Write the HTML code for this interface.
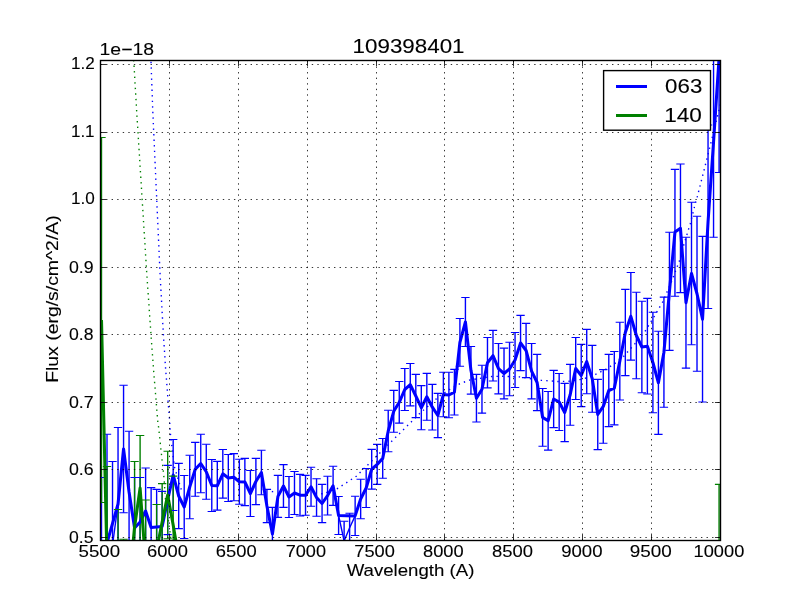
<!DOCTYPE html>
<html lang="en">
<head>
<meta charset="utf-8">
<title>109398401</title>
<style>
html,body{margin:0;padding:0;background:#fff;}
body{width:800px;height:600px;overflow:hidden;position:relative;font-family:"Liberation Sans",sans-serif;}
</style>
</head>
<body>
<svg width="800" height="600" viewBox="0 0 800 600" style="position:absolute;left:0;top:0;display:block;will-change:transform">
<rect x="0" y="0" width="800" height="600" fill="#ffffff"/>
<defs><clipPath id="ax"><rect x="100.5" y="60.5" width="620" height="480"/></clipPath></defs>
<g clip-path="url(#ax)">
<path d="M101.5 477.5V642.5M107.01 434.3V651.7M112.53 461.5V628.5M118.04 427.5V580.5M123.56 385.3V512.7M129.07 431.3V552.7M134.58 477.5V578.5M140.1 477.5V566.5M145.61 468V554M151.13 487.6V567.4M156.64 489.4V564.6M162.15 491.4V561.6M167.67 465.4V534.6M173.18 439.5V510.5M178.7 463.4V528.6M184.21 475.5V538.5M189.72 455.25V518.75M195.24 442.4V496.2M200.75 434.25V492.75M206.27 444.25V499.25M211.78 459.5V511.5M217.29 461.4V510.1M222.81 449.5V498.1M228.32 454.5V501.5M233.84 453.6V500.8M239.35 459.25V504.25M244.86 458.4V505.6M250.38 470.5V516.5M255.89 458.4V504.6M261.41 450.25V494.75M266.92 489.4V522.6M272.43 507.4V560.6M277.95 475.4V517.4M283.46 464.6V507.4M288.98 476.5V517.5M294.49 471.5V514.5M300.0 474.4V516.0M305.52 475.4V515.2M311.03 467.25V506.25M316.55 478.75V516.25M322.06 484.4V522.6M327.57 476.25V514.95M333.09 466.25V505.35M338.6 496.5V534.5M344.12 521.3V560.7M349.63 513.3V542.1M355.14 496.3V535.5M360.66 479.2V518.8M366.17 468.5V507.5M371.69 449.4V489.1M377.2 444.4V484.4M382.71 438.5V478.3M388.23 410.25V451.75M393.74 390.4V432.2M399.26 381.5V423.1M404.77 368.5V410.5M410.28 363.5V405.9M415.8 374.4V417.6M421.31 385.6V429.8M426.83 373.4V420.2M432.34 384.4V430.0M437.85 393.4V437.6M443.37 372.25V416.75M448.88 372.25V417.75M454.4 369.4V415.0M459.91 318.5V366.3M465.42 297.5V346.5M470.94 346.5V394.1M476.45 374.4V422.0M481.97 365.25V413.15M487.48 337.5V387.9M492.99 330.4V381.0M498.51 343.5V393.9M504.02 348.1V398.9M509.54 342.25V395.75M515.05 332.5V387.5M520.56 315.4V370.6M526.08 323.4V377.6M531.59 343.5V398.9M537.11 354.4V410.6M542.62 388.5V446.3M548.13 391.5V450.1M553.65 370.4V427.6M559.16 373.5V430.5M564.68 383.4V441.6M570.19 364.4V425.2M575.7 337.5V399.5M581.22 344.4V406.6M586.73 329.4V393.8M592.25 345.4V412.2M597.76 379.4V449.6M603.27 369.6V443.2M608.79 354.4V426.6M614.3 351.5V424.9M619.82 322.25V399.95M625.33 289.4V375.6M630.84 272.5V360.1M636.36 292.25V378.75M641.87 301.25V392.75M647.39 298.4V394.0M652.9 312.25V412.75M658.41 331.25V434.35M663.93 297.1V407.3M669.44 232.25V350.35M674.96 169.4V296.25M680.47 164V292.6M685.98 237.25V368.15M691.5 202.3V344.7M697.01 216.3V371.2M702.53 236.4V402.0M708.04 125V308.5M713.55 46.7V237.3M719.07 -56.5V172.5" stroke="#0000ff" stroke-width="1.39" fill="none"/>
<path d="M101.5 137.5V502.5M107.01 466.5V653.5M112.53 560V640M118.04 509.5V660.5M123.56 539.3V660.7M129.07 560V610M134.58 461.5V592.5M140.1 435.5V540.5M145.61 500V628M151.13 560V640M156.64 504.5V595.5M162.15 483.6V560.4M167.67 451.3V538.7M173.18 476.1V573.9M178.7 545V571M184.21 560V640M719.07 484.4V715.6" stroke="#008000" stroke-width="1.39" fill="none"/>
<path d="M101.5 560L107.01 543L112.53 545L118.04 504L123.56 449L129.07 492L134.58 528L140.1 522L145.61 511L151.13 527.5L156.64 527L162.15 526.5L167.67 500L173.18 475L178.7 496L184.21 507L189.72 487L195.24 469.3L200.75 463.5L206.27 471.75L211.78 485.5L217.29 485.75L222.81 473.8L228.32 478L233.84 477.2L239.35 481.75L244.86 482L250.38 493.5L255.89 481.5L261.41 472.5L266.92 506L272.43 534L277.95 496.4L283.46 486L288.98 497L294.49 493L300.0 495.2L305.52 495.3L311.03 486.75L316.55 497.5L322.06 503.5L327.57 495.6L333.09 485.8L338.6 515.5L344.12 541L349.63 527.7L355.14 515.9L360.66 499L366.17 488L371.69 469.25L377.2 464.4L382.71 458.4L388.23 431L393.74 411.3L399.26 402.3L404.77 389.5L410.28 384.7L415.8 396L421.31 407.7L426.83 396.8L432.34 407.2L437.85 415.5L443.37 394.5L448.88 395L454.4 392.2L459.91 342.4L465.42 322L470.94 370.3L476.45 398.2L481.97 389.2L487.48 362.7L492.99 355.7L498.51 368.7L504.02 373.5L509.54 369L515.05 360L520.56 343L526.08 350.5L531.59 371.2L537.11 382.5L542.62 417.4L548.13 420.8L553.65 399L559.16 402L564.68 412.5L570.19 394.8L575.7 368.5L581.22 375.5L586.73 361.6L592.25 378.8L597.76 414.5L603.27 406.4L608.79 390.5L614.3 388.2L619.82 361.1L625.33 332.5L630.84 316.3L636.36 335.5L641.87 347L647.39 346.2L652.9 362.5L658.41 382.8L663.93 352.2L669.44 291.3L674.96 232L680.47 228.3L685.98 302.7L691.5 273.5L697.01 293.75L702.53 319.2L708.04 222L713.55 142L719.07 58" stroke="#0000ff" stroke-width="1.39" fill="none" stroke-linejoin="round" />
<path d="M97.33 477.5H105.67M102.84 434.3H111.18M108.36 461.5H116.7M113.87 427.5H122.21M119.39 385.3H127.73M119.39 512.7H127.73M124.9 431.3H133.24M130.41 477.5H138.75M135.93 477.5H144.27M141.44 468H149.78M146.96 487.6H155.3M152.47 489.4H160.81M157.98 491.4H166.32M163.5 465.4H171.84M163.5 534.6H171.84M169.01 439.5H177.35M169.01 510.5H177.35M174.53 463.4H182.87M174.53 528.6H182.87M180.04 475.5H188.38M180.04 538.5H188.38M185.55 455.25H193.89M185.55 518.75H193.89M191.07 442.4H199.41M191.07 496.2H199.41M196.58 434.25H204.92M196.58 492.75H204.92M202.1 444.25H210.44M202.1 499.25H210.44M207.61 459.5H215.95M207.61 511.5H215.95M213.12 461.4H221.46M213.12 510.1H221.46M218.64 449.5H226.98M218.64 498.1H226.98M224.15 454.5H232.49M224.15 501.5H232.49M229.67 453.6H238.01M229.67 500.8H238.01M235.18 459.25H243.52M235.18 504.25H243.52M240.69 458.4H249.03M240.69 505.6H249.03M246.21 470.5H254.55M246.21 516.5H254.55M251.72 458.4H260.06M251.72 504.6H260.06M257.24 450.25H265.58M257.24 494.75H265.58M262.75 489.4H271.09M262.75 522.6H271.09M268.26 507.4H276.6M273.78 475.4H282.12M273.78 517.4H282.12M279.29 464.6H287.63M279.29 507.4H287.63M284.81 476.5H293.15M284.81 517.5H293.15M290.32 471.5H298.66M290.32 514.5H298.66M295.83 474.4H304.17M295.83 516.0H304.17M301.35 475.4H309.69M301.35 515.2H309.69M306.86 467.25H315.2M306.86 506.25H315.2M312.38 478.75H320.72M312.38 516.25H320.72M317.89 484.4H326.23M317.89 522.6H326.23M323.4 476.25H331.74M323.4 514.95H331.74M328.92 466.25H337.26M328.92 505.35H337.26M334.43 496.5H342.77M334.43 534.5H342.77M339.95 521.3H348.29M345.46 513.3H353.8M345.46 542.1H353.8M350.97 496.3H359.31M350.97 535.5H359.31M356.49 479.2H364.83M356.49 518.8H364.83M362.0 468.5H370.34M362.0 507.5H370.34M367.52 449.4H375.86M367.52 489.1H375.86M373.03 444.4H381.37M373.03 484.4H381.37M378.54 438.5H386.88M378.54 478.3H386.88M384.06 410.25H392.4M384.06 451.75H392.4M389.57 390.4H397.91M389.57 432.2H397.91M395.09 381.5H403.43M395.09 423.1H403.43M400.6 368.5H408.94M400.6 410.5H408.94M406.11 363.5H414.45M406.11 405.9H414.45M411.63 374.4H419.97M411.63 417.6H419.97M417.14 385.6H425.48M417.14 429.8H425.48M422.66 373.4H431.0M422.66 420.2H431.0M428.17 384.4H436.51M428.17 430.0H436.51M433.68 393.4H442.02M433.68 437.6H442.02M439.2 372.25H447.54M439.2 416.75H447.54M444.71 372.25H453.05M444.71 417.75H453.05M450.23 369.4H458.57M450.23 415.0H458.57M455.74 318.5H464.08M455.74 366.3H464.08M461.25 297.5H469.59M461.25 346.5H469.59M466.77 346.5H475.11M466.77 394.1H475.11M472.28 374.4H480.62M472.28 422.0H480.62M477.8 365.25H486.14M477.8 413.15H486.14M483.31 337.5H491.65M483.31 387.9H491.65M488.82 330.4H497.16M488.82 381.0H497.16M494.34 343.5H502.68M494.34 393.9H502.68M499.85 348.1H508.19M499.85 398.9H508.19M505.37 342.25H513.71M505.37 395.75H513.71M510.88 332.5H519.22M510.88 387.5H519.22M516.39 315.4H524.73M516.39 370.6H524.73M521.91 323.4H530.25M521.91 377.6H530.25M527.42 343.5H535.76M527.42 398.9H535.76M532.94 354.4H541.28M532.94 410.6H541.28M538.45 388.5H546.79M538.45 446.3H546.79M543.96 391.5H552.3M543.96 450.1H552.3M549.48 370.4H557.82M549.48 427.6H557.82M554.99 373.5H563.33M554.99 430.5H563.33M560.51 383.4H568.85M560.51 441.6H568.85M566.02 364.4H574.36M566.02 425.2H574.36M571.53 337.5H579.87M571.53 399.5H579.87M577.05 344.4H585.39M577.05 406.6H585.39M582.56 329.4H590.9M582.56 393.8H590.9M588.08 345.4H596.42M588.08 412.2H596.42M593.59 379.4H601.93M593.59 449.6H601.93M599.1 369.6H607.44M599.1 443.2H607.44M604.62 354.4H612.96M604.62 426.6H612.96M610.13 351.5H618.47M610.13 424.9H618.47M615.65 322.25H623.99M615.65 399.95H623.99M621.16 289.4H629.5M621.16 375.6H629.5M626.67 272.5H635.01M626.67 360.1H635.01M632.19 292.25H640.53M632.19 378.75H640.53M637.7 301.25H646.04M637.7 392.75H646.04M643.22 298.4H651.56M643.22 394.0H651.56M648.73 312.25H657.07M648.73 412.75H657.07M654.24 331.25H662.58M654.24 434.35H662.58M659.76 297.1H668.1M659.76 407.3H668.1M665.27 232.25H673.61M665.27 350.35H673.61M670.79 169.4H679.13M670.79 296.25H679.13M676.3 164H684.64M676.3 292.6H684.64M681.81 237.25H690.15M681.81 368.15H690.15M687.33 202.3H695.67M687.33 344.7H695.67M692.84 216.3H701.18M692.84 371.2H701.18M698.36 236.4H706.7M698.36 402.0H706.7M703.87 125H712.21M703.87 308.5H712.21M709.38 237.3H717.72M714.9 172.5H723.24" stroke="#0000ff" stroke-width="1.1" fill="none"/>
<path d="M101.5 560L107.01 543L118.04 504L123.56 449L129.07 492L134.58 528L140.1 522L145.61 511L151.13 527.5L156.64 527L162.15 526.5L167.67 500L173.18 475L178.7 496L184.21 507L189.72 487L195.24 469.3L200.75 463.5L206.27 471.75L211.78 485.5L217.29 485.75L222.81 473.8L228.32 478L233.84 477.2L239.35 481.75L244.86 482L250.38 493.5L255.89 481.5L261.41 472.5L266.92 506L272.43 534L277.95 496.4L283.46 486L288.98 497L294.49 493L300.0 495.2L305.52 495.3L311.03 486.75L316.55 497.5L322.06 503.5L327.57 495.6L333.09 485.8L338.6 515.5L355.14 515.9L360.66 499L366.17 488L371.69 469.25L377.2 464.4L382.71 458.4L388.23 431L393.74 411.3L399.26 402.3L404.77 389.5L410.28 384.7L415.8 396L421.31 407.7L426.83 396.8L432.34 407.2L437.85 415.5L443.37 394.5L448.88 395L454.4 392.2L459.91 342.4L465.42 322L470.94 370.3L476.45 398.2L481.97 389.2L487.48 362.7L492.99 355.7L498.51 368.7L504.02 373.5L509.54 369L515.05 360L520.56 343L526.08 350.5L531.59 371.2L537.11 382.5L542.62 417.4L548.13 420.8L553.65 399L559.16 402L564.68 412.5L570.19 394.8L575.7 368.5L581.22 375.5L586.73 361.6L592.25 378.8L597.76 414.5L603.27 406.4L608.79 390.5L614.3 388.2L619.82 361.1L625.33 332.5L630.84 316.3L636.36 335.5L641.87 347L647.39 346.2L652.9 362.5L658.41 382.8L663.93 352.2L669.44 291.3L674.96 232L680.47 228.3L685.98 302.7L691.5 273.5L697.01 293.75L702.53 319.2L708.04 222L713.55 142L719.07 58" stroke="#0000ff" stroke-width="3.05" fill="none" stroke-linejoin="round" />
<path d="M151 61.8L152.8 111.7L160 272.7L163 328L165.5 367L169.7 422L170.6 436L174.4 466.75L176 472L180.6 487.4L181.6 490.5" stroke="#0000ff" stroke-width="1.39" fill="none" stroke-linejoin="round" stroke-dasharray="1.39 4.17"/>
<path d="M271.8 491.6L273.2 491.6" stroke="#0000ff" stroke-width="1.39" fill="none" stroke-linejoin="round" stroke-dasharray="1.39 4.17"/>
<path d="M321.2 493.75L322.6 493.75" stroke="#0000ff" stroke-width="1.39" fill="none" stroke-linejoin="round" stroke-dasharray="1.39 4.17"/>
<path d="M326.2 492.5L327.6 492.5" stroke="#0000ff" stroke-width="1.39" fill="none" stroke-linejoin="round" stroke-dasharray="1.39 4.17"/>
<path d="M336.9 488.9L356.2 476.3L411.6 421.6L419.4 413.75L440 395.6L449.5 389.5L459.3 384L470 379.9L491.9 376.5L503 376.25L519.4 376.9L541 380.25L557.75 381.5L568.75 381.25L580 379.6L585 378.4L595.6 374.4L605.6 369.4L615 363.4L623.75 356.25L634.6 344.1L645.25 331L654 316.9L662.5 302.25L666.9 292.25L671.25 282.25L679.4 261.1L683.75 245L690.25 223.75L695.4 203.1L697.1 197.5L704.1 170L712.1 138.1L720.5 104" stroke="#0000ff" stroke-width="1.39" fill="none" stroke-linejoin="round" stroke-dasharray="1.39 4.17"/>
<path d="M97.33 137.5H105.67M97.33 502.5H105.67M102.84 466.5H111.18M113.87 509.5H122.21M119.39 539.3H127.73M130.41 461.5H138.75M135.93 435.5H144.27M135.93 540.5H144.27M141.44 500H149.78M152.47 504.5H160.81M157.98 483.6H166.32M163.5 451.3H171.84M163.5 538.7H171.84M169.01 476.1H177.35M714.9 484.4H723.24" stroke="#008000" stroke-width="1.1" fill="none"/>
<path d="M101.5 320L107.01 560L112.53 600L118.04 585L123.56 600L129.07 585L134.58 527L140.1 488L145.61 564L151.13 600L156.64 550L162.15 522L167.67 495L173.18 525L178.7 558L184.21 600" stroke="#008000" stroke-width="3.05" fill="none" stroke-linejoin="round" />
<path d="M133.7 60L136.7 111.7L146.7 272.5L150.5 327.8L153.3 366.5L157.8 422L158.6 427.4L161 450L164 478L165.5 499.5L170 532L171.5 545" stroke="#008000" stroke-width="1.39" fill="none" stroke-linejoin="round" stroke-dasharray="1.39 4.17"/>
</g>
<path d="M169.5 540.5V60.5M238.5 540.5V60.5M307.5 540.5V60.5M376.5 540.5V60.5M444.5 540.5V60.5M513.5 540.5V60.5M582.5 540.5V60.5M651.5 540.5V60.5M100.5 537.5H720.5M100.5 469.5H720.5M100.5 402.5H720.5M100.5 334.5H720.5M100.5 267.5H720.5M100.5 199.5H720.5M100.5 132.5H720.5M100.5 64.5H720.5" stroke="#000" stroke-width="0.8" stroke-dasharray="1.39 4.17" fill="none"/>
<path d="M100.5 540.5v-5.56M100.5 60.5v5.56M169.5 540.5v-5.56M169.5 60.5v5.56M238.5 540.5v-5.56M238.5 60.5v5.56M307.5 540.5v-5.56M307.5 60.5v5.56M376.5 540.5v-5.56M376.5 60.5v5.56M444.5 540.5v-5.56M444.5 60.5v5.56M513.5 540.5v-5.56M513.5 60.5v5.56M582.5 540.5v-5.56M582.5 60.5v5.56M651.5 540.5v-5.56M651.5 60.5v5.56M720.5 540.5v-5.56M720.5 60.5v5.56M100.5 537.5h5.56M720.5 537.5h-5.56M100.5 469.5h5.56M720.5 469.5h-5.56M100.5 402.5h5.56M720.5 402.5h-5.56M100.5 334.5h5.56M720.5 334.5h-5.56M100.5 267.5h5.56M720.5 267.5h-5.56M100.5 199.5h5.56M720.5 199.5h-5.56M100.5 132.5h5.56M720.5 132.5h-5.56M100.5 64.5h5.56M720.5 64.5h-5.56" stroke="#000" stroke-width="0.8" fill="none"/>
<rect x="100.5" y="60.5" width="620" height="480" fill="none" stroke="#000" stroke-width="1.39"/>
<rect x="603.6" y="70.6" width="106.9" height="59.6" fill="#fff" stroke="#000" stroke-width="1.39"/>
<rect x="616" y="85" width="31" height="3" fill="#0000ff"/>
<rect x="616" y="114" width="31" height="3" fill="#008000"/>
<text x="0" y="0" font-size="16.6" font-family="Liberation Sans, sans-serif" text-anchor="start" textLength="41.57" lengthAdjust="spacingAndGlyphs" fill="#000" stroke="#000" stroke-width="0.1" transform="translate(78.52 557)">5500</text>
<text x="0" y="0" font-size="16.6" font-family="Liberation Sans, sans-serif" text-anchor="start" textLength="40.87" lengthAdjust="spacingAndGlyphs" fill="#000" stroke="#000" stroke-width="0.1" transform="translate(147.09 557)">6000</text>
<text x="0" y="0" font-size="16.6" font-family="Liberation Sans, sans-serif" text-anchor="start" textLength="40.94" lengthAdjust="spacingAndGlyphs" fill="#000" stroke="#000" stroke-width="0.1" transform="translate(215.79 557)">6500</text>
<text x="0" y="0" font-size="16.6" font-family="Liberation Sans, sans-serif" text-anchor="start" textLength="40.35" lengthAdjust="spacingAndGlyphs" fill="#000" stroke="#000" stroke-width="0.1" transform="translate(285.69 557)">7000</text>
<text x="0" y="0" font-size="16.6" font-family="Liberation Sans, sans-serif" text-anchor="start" textLength="40.55" lengthAdjust="spacingAndGlyphs" fill="#000" stroke="#000" stroke-width="0.1" transform="translate(354.26 557)">7500</text>
<text x="0" y="0" font-size="16.6" font-family="Liberation Sans, sans-serif" text-anchor="start" textLength="40.67" lengthAdjust="spacingAndGlyphs" fill="#000" stroke="#000" stroke-width="0.1" transform="translate(423.03 557)">8000</text>
<text x="0" y="0" font-size="16.6" font-family="Liberation Sans, sans-serif" text-anchor="start" textLength="40.98" lengthAdjust="spacingAndGlyphs" fill="#000" stroke="#000" stroke-width="0.1" transform="translate(492.0 557)">8500</text>
<text x="0" y="0" font-size="16.6" font-family="Liberation Sans, sans-serif" text-anchor="start" textLength="41.35" lengthAdjust="spacingAndGlyphs" fill="#000" stroke="#000" stroke-width="0.1" transform="translate(561.15 557)">9000</text>
<text x="0" y="0" font-size="16.6" font-family="Liberation Sans, sans-serif" text-anchor="start" textLength="42.09" lengthAdjust="spacingAndGlyphs" fill="#000" stroke="#000" stroke-width="0.1" transform="translate(629.75 557)">9500</text>
<text x="0" y="0" font-size="16.6" font-family="Liberation Sans, sans-serif" text-anchor="start" textLength="50.7" lengthAdjust="spacingAndGlyphs" fill="#000" stroke="#000" stroke-width="0.1" transform="translate(693.59 557)">10000</text>
<text x="0" y="0" font-size="16.6" font-family="Liberation Sans, sans-serif" text-anchor="start" textLength="24.48" lengthAdjust="spacingAndGlyphs" fill="#000" stroke="#000" stroke-width="0.1" transform="translate(69.07 543)">0.5</text>
<text x="0" y="0" font-size="16.6" font-family="Liberation Sans, sans-serif" text-anchor="start" textLength="24.68" lengthAdjust="spacingAndGlyphs" fill="#000" stroke="#000" stroke-width="0.1" transform="translate(68.9 475)">0.6</text>
<text x="0" y="0" font-size="16.6" font-family="Liberation Sans, sans-serif" text-anchor="start" textLength="24.72" lengthAdjust="spacingAndGlyphs" fill="#000" stroke="#000" stroke-width="0.1" transform="translate(68.93 408)">0.7</text>
<text x="0" y="0" font-size="16.6" font-family="Liberation Sans, sans-serif" text-anchor="start" textLength="24.49" lengthAdjust="spacingAndGlyphs" fill="#000" stroke="#000" stroke-width="0.1" transform="translate(69.06 340)">0.8</text>
<text x="0" y="0" font-size="16.6" font-family="Liberation Sans, sans-serif" text-anchor="start" textLength="24.68" lengthAdjust="spacingAndGlyphs" fill="#000" stroke="#000" stroke-width="0.1" transform="translate(68.92 273)">0.9</text>
<text x="0" y="0" font-size="16.6" font-family="Liberation Sans, sans-serif" text-anchor="start" textLength="23.83" lengthAdjust="spacingAndGlyphs" fill="#000" stroke="#000" stroke-width="0.1" transform="translate(70.96 204)">1.0</text>
<text x="0" y="0" font-size="16.6" font-family="Liberation Sans, sans-serif" text-anchor="start" textLength="23.69" lengthAdjust="spacingAndGlyphs" fill="#000" stroke="#000" stroke-width="0.1" transform="translate(70.91 137)">1.1</text>
<text x="0" y="0" font-size="16.6" font-family="Liberation Sans, sans-serif" text-anchor="start" textLength="23.77" lengthAdjust="spacingAndGlyphs" fill="#000" stroke="#000" stroke-width="0.1" transform="translate(70.89 69)">1.2</text>
<text x="0" y="0" font-size="16.6" font-family="Liberation Sans, sans-serif" text-anchor="start" textLength="54.55" lengthAdjust="spacingAndGlyphs" fill="#000" stroke="#000" stroke-width="0.1" transform="translate(99.54 55)">1e−18</text>
<text x="0" y="0" font-size="19.8" font-family="Liberation Sans, sans-serif" text-anchor="start" textLength="111.95" lengthAdjust="spacingAndGlyphs" fill="#000" stroke="#000" stroke-width="0.1" transform="translate(352.58 53)">109398401</text>
<text x="0" y="0" font-size="16.6" font-family="Liberation Sans, sans-serif" text-anchor="start" textLength="127.78" lengthAdjust="spacingAndGlyphs" fill="#000" stroke="#000" stroke-width="0.1" transform="translate(346.65 576)">Wavelength (A)</text>
<text x="0" y="0" font-size="16.6" font-family="Liberation Sans, sans-serif" text-anchor="start" textLength="167.54" lengthAdjust="spacingAndGlyphs" fill="#000" stroke="#000" stroke-width="0.1" transform="translate(58.3 382.86) rotate(-90)">Flux (erg/s/cm^2/A)</text>
<text x="0" y="0" font-size="19.6" font-family="Liberation Sans, sans-serif" text-anchor="start" textLength="37.18" lengthAdjust="spacingAndGlyphs" fill="#000" stroke="#000" stroke-width="0.1" transform="translate(665.11 93)">063</text>
<text x="0" y="0" font-size="19.6" font-family="Liberation Sans, sans-serif" text-anchor="start" textLength="37.7" lengthAdjust="spacingAndGlyphs" fill="#000" stroke="#000" stroke-width="0.1" transform="translate(664.16 122)">140</text>
</svg>
</body>
</html>
